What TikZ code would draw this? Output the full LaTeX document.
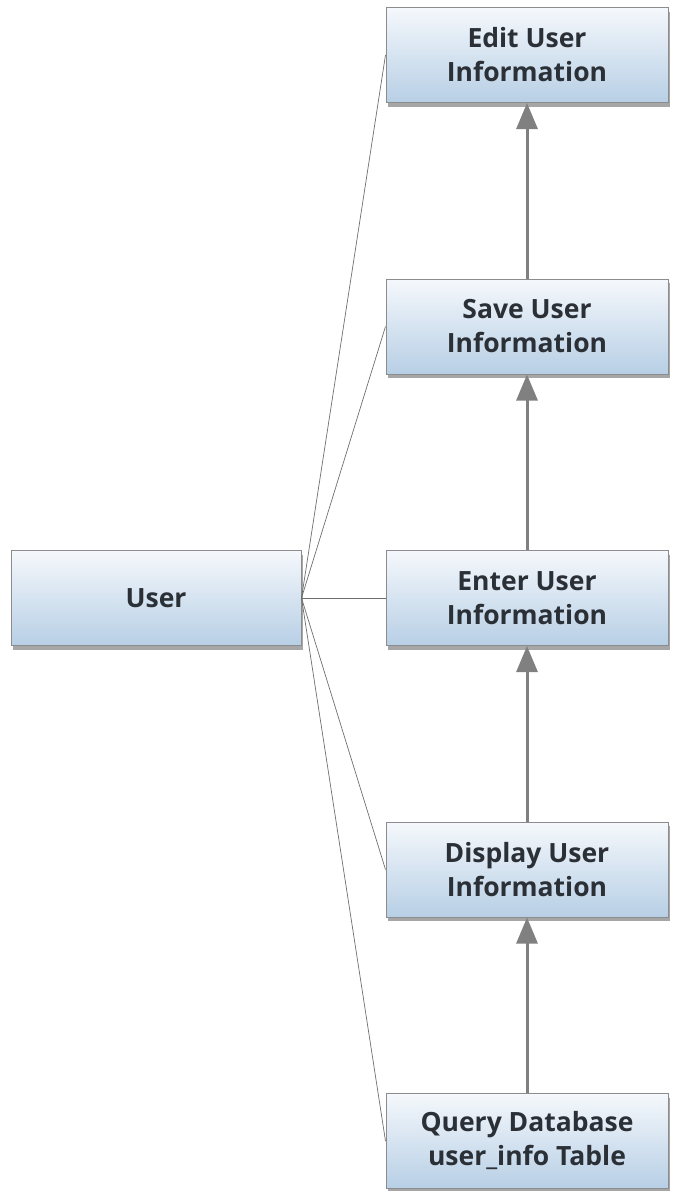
\documentclass[tikz,border=0pt]{standalone}
\usepackage{fontspec}
\setmainfont{Open Sans}
\usetikzlibrary{arrows.meta,shadows,positioning}
\definecolor{boxtop}{HTML}{F5F8FC}
\definecolor{boxbot}{HTML}{B7CFE5}
\definecolor{boxline}{HTML}{8C8C8C}
\definecolor{linkgray}{HTML}{6E6E6E}
\definecolor{arrgray}{HTML}{808080}
\definecolor{txt}{HTML}{2B2F36}
\tikzset{
  x=1pt,y=1pt,
  procbox/.style={draw=boxline, line width=1pt, top color=boxtop, bottom color=boxbot,
    minimum width=282pt, minimum height=95pt, inner sep=0pt,
    align=center, text=txt, font=\fontsize{26.5}{34}\selectfont\bfseries,
    drop shadow={shadow xshift=2pt, shadow yshift=-4pt, fill=black, opacity=0.35}},
  link/.style={draw=linkgray, line width=0.7pt},
  flow/.style={draw=arrgray, line width=3pt, -{Triangle[width=21pt,length=26pt]}}
}
\begin{document}
\begin{tikzpicture}
\useasboundingbox (0,0) rectangle (673,-1191);
\node[procbox] (edit) at (527,-55) {Edit User\\Information};
\node[procbox] (save) at (527,-326.5) {Save User\\Information};
\node[procbox] (enter) at (527,-598) {Enter User\\Information};
\node[procbox] (disp) at (527,-869.5) {Display User\\Information};
\node[procbox] (query) at (527,-1141) {Query Database\\user\_info Table};
\node[procbox, minimum width=290pt] (user) at (156,-598) {User};

\foreach \n in {edit,save,enter,disp,query}
  \draw[link] (user.east) -- (\n.west);

\draw[flow] (query.north) -- (disp.south);
\draw[flow] (disp.north) -- (enter.south);
\draw[flow] (enter.north) -- (save.south);
\draw[flow] (save.north) -- (edit.south);
\end{tikzpicture}
\end{document}
